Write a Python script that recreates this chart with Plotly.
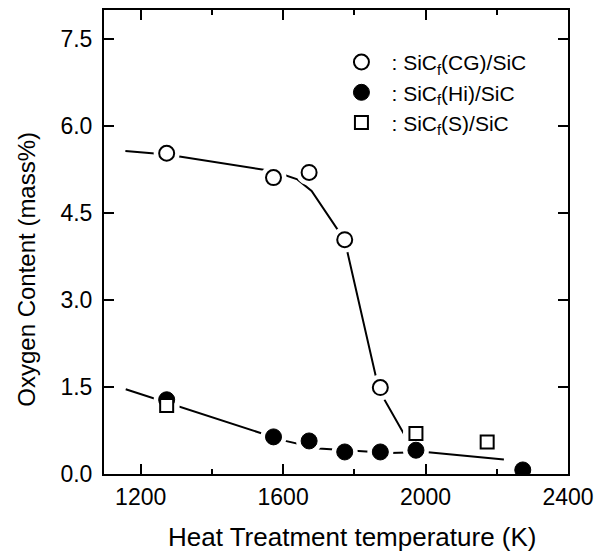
import plotly.graph_objects as go

# ---- data ----
cg_temp = [1273, 1573, 1673, 1773, 1873]
cg_oxy = [5.53, 5.11, 5.20, 4.04, 1.49]

hi_temp = [1273, 1573, 1673, 1773, 1873, 1973, 2273]
hi_oxy = [1.28, 0.64, 0.57, 0.38, 0.38, 0.41, 0.07]

s_temp = [1273, 1973, 2173]
s_oxy = [1.18, 0.70, 0.55]

# hand-drawn trend curves
cg_fit_temp = [1157, 1273, 1573, 1640, 1680, 1773, 1869, 1945]
cg_fit_oxy = [5.57, 5.51, 5.22, 5.08, 4.88, 4.03, 1.45, 0.63]

hi_fit_temp = [1158, 1533, 1600, 1700, 1800, 1900, 2000, 2220]
hi_fit_oxy = [1.46, 0.71, 0.58, 0.44, 0.40, 0.36, 0.38, 0.25]

x_ticks = [1200, 1600, 2000, 2400]
y_ticks = [0.0, 1.5, 3.0, 4.5, 6.0, 7.5]

names = [" \u2009: SiC<sub>f</sub>(CG)/SiC", " \u2009: SiC<sub>f</sub>(Hi)/SiC", " \u2009: SiC<sub>f</sub>(S)/SiC"]

FONT = "Liberation Sans, Arial, Helvetica, sans-serif"

fig = go.Figure()

# trend lines
fig.add_trace(go.Scatter(x=cg_fit_temp, y=cg_fit_oxy, mode="lines",
                         line=dict(color="black", width=2), showlegend=False, hoverinfo="skip"))
fig.add_trace(go.Scatter(x=hi_fit_temp, y=hi_fit_oxy, mode="lines",
                         line=dict(color="black", width=2), showlegend=False, hoverinfo="skip"))

# white halos that break the lines around markers
fig.add_trace(go.Scatter(x=cg_temp + hi_temp + s_temp, y=cg_oxy + hi_oxy + s_oxy, mode="markers",
                         marker=dict(symbol="circle", size=26, color="white", line=dict(width=0)),
                         showlegend=False, hoverinfo="skip"))

# markers
fig.add_trace(go.Scatter(x=hi_temp, y=hi_oxy, mode="markers", name=names[1],
                         legendgroup="hi", legendrank=2,
                         marker=dict(symbol="circle", size=16, color="black",
                                     line=dict(color="black", width=1))))
fig.add_trace(go.Scatter(x=cg_temp, y=cg_oxy, mode="markers", name=names[0],
                         legendgroup="cg", legendrank=1,
                         marker=dict(symbol="circle", size=15, color="white",
                                     line=dict(color="black", width=2))))
fig.add_trace(go.Scatter(x=s_temp, y=s_oxy, mode="markers", name=names[2],
                         legendgroup="s", legendrank=3,
                         marker=dict(symbol="square", size=13, color="white",
                                     line=dict(color="black", width=2))))

axis_common = dict(
    showline=True, linecolor="black", linewidth=2, mirror="allticks",
    ticks="inside", ticklen=10, tickwidth=1.5, tickcolor="black",
    showgrid=False, zeroline=False,
    tickfont=dict(family=FONT, size=23, color="black"),
)

fig.update_xaxes(range=[1097, 2400], tickvals=x_ticks, ticktext=[str(v) for v in x_ticks],
                 minor=dict(dtick=200, tick0=1200, ticks="inside", ticklen=5, tickwidth=1.5,
                            tickcolor="black", showgrid=False),
                 ticklabelstandoff=1, **axis_common)
fig.update_yaxes(range=[0, 8], tickvals=y_ticks, ticktext=[f"{v:.1f}" for v in y_ticks],
                 ticklabelstandoff=5, **axis_common)

fig.add_annotation(text="Heat Treatment temperature (K)", xref="paper", yref="paper",
                   x=(355 - 104) / 469, y=(474 - 537) / 466, showarrow=False,
                   xanchor="center", yanchor="middle",
                   font=dict(family=FONT, size=26, color="black"))
fig.add_annotation(text="Oxygen Content (mass%)", xref="paper", yref="paper",
                   x=(26 - 104) / 469, y=(474 - 268) / 466, showarrow=False,
                   xanchor="center", yanchor="middle",
                   textangle=-90, font=dict(family=FONT, size=24, color="black"))

fig.update_layout(
    width=602, height=560,
    margin=dict(l=104, r=29, t=8, b=86),
    paper_bgcolor="white", plot_bgcolor="white",
    font=dict(family=FONT, color="black"),
    showlegend=True,
    legend=dict(x=(344 - 104) / 469, y=(474 - 40) / 466, xanchor="left", yanchor="top",
                bgcolor="rgba(0,0,0,0)", borderwidth=0,
                font=dict(family=FONT, size=21, color="black"),
                traceorder="grouped", tracegroupgap=0),
)

fig.write_html("out.html", config={"displayModeBar": False},
               post_script="document.body.style.margin='0px';document.body.style.overflow='hidden';")
